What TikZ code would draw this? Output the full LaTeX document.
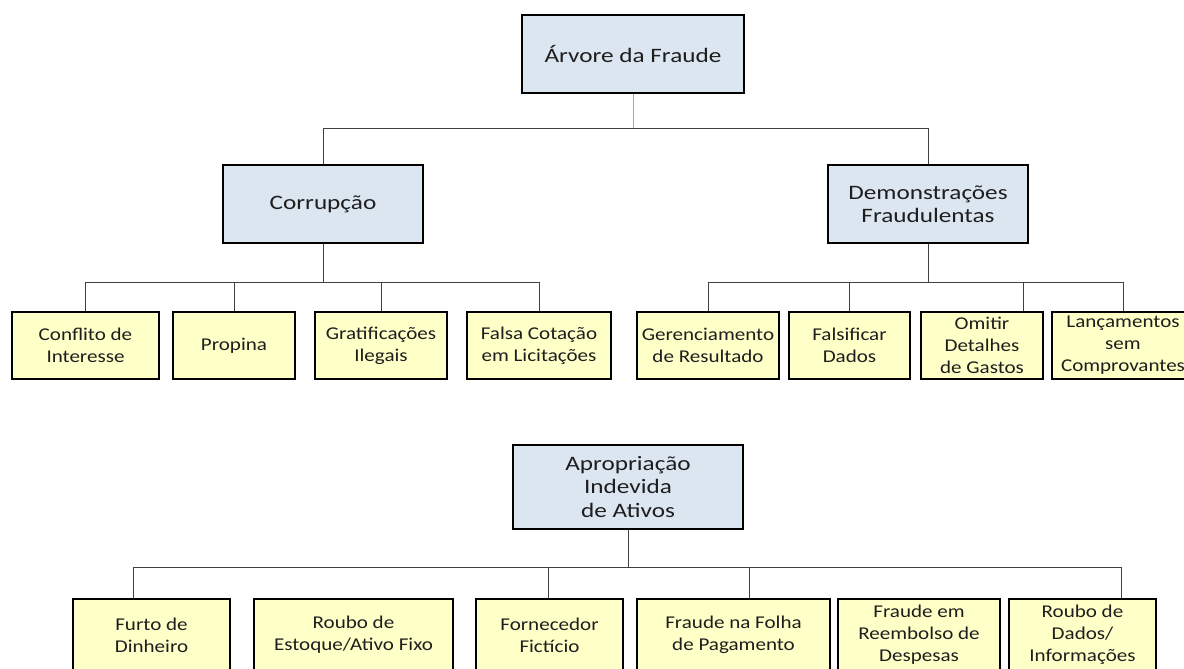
\documentclass[tikz,border=0pt]{standalone}
\usepackage{fontspec}
\setmainfont{Carlito}[FakeStretch=1.17]
\newfontfamily\catfont{Carlito}[FakeStretch=1.23]
\usetikzlibrary{shadows}
\definecolor{catfill}{HTML}{DCE6F1}
\definecolor{leaffill}{HTML}{FFFFC8}
\definecolor{lineg}{HTML}{404040}
\definecolor{lightline}{HTML}{A8A8A8}
\definecolor{txt}{HTML}{1E1E1E}
\begin{document}
\begin{tikzpicture}[x=1pt,y=-1pt,
  box/.style={draw=black, line width=1.3pt, align=center, text=txt, inner sep=0pt,
    drop shadow={shadow xshift=1.3pt, shadow yshift=-1.3pt, fill=black, opacity=1}},
  cat/.style={box, fill=catfill, font=\catfont\fontsize{20.5}{23.5}\selectfont},
  leaf/.style={box, fill=leaffill, font=\fontsize{18}{22}\selectfont},
  conn/.style={draw=lineg, line width=0.9pt}]
\useasboundingbox (0,0) rectangle (1184,669);
\fill[white] (0,0) rectangle (1184,669);
% categories
\node[cat, minimum width=222, minimum height=78] (top) at (633,54) {Árvore da Fraude};
\node[cat, minimum width=200, minimum height=78] (corr) at (323,204) {Corrupção};
\node[cat, minimum width=200, minimum height=78] (demo) at (928,204) {Demonstrações\\Fraudulentas};
\node[cat, minimum width=230, minimum height=84] (apro) at (628,487) {Apropriação\\Indevida\\de Ativos};
% row 1
\node[leaf, minimum width=147, minimum height=67] (conf) at (85.5,345.5) {Conflito de\\Interesse};
\node[leaf, minimum width=122, minimum height=67] (prop) at (234,345.5) {Propina};
\node[leaf, minimum width=132, minimum height=67] (grat) at (381,345.5) {Gratificações\\Ilegais};
\node[leaf, minimum width=144, minimum height=67] (fals) at (539,345.5) {Falsa Cotação\\em Licitações};
\node[leaf, minimum width=142, minimum height=67] (ger) at (708,345.5) {Gerenciamento\\de Resultado};
\node[leaf, minimum width=121, minimum height=67] (fsd) at (849.5,345.5) {Falsificar\\Dados};
\node[leaf, minimum width=122, minimum height=67] (omi) at (982,345.5) {Omitir\\Detalhes\\de Gastos};
\node[leaf, minimum width=142, minimum height=67] (lanc) at (1123,345.5) {Lançamentos\\sem\\Comprovantes};
% row 3
\node[leaf, minimum width=157, minimum height=72] (furto) at (151.5,635) {Furto de\\Dinheiro};
\node[leaf, minimum width=199, minimum height=72] (roubo) at (353.5,635) {Roubo de\\Estoque/Ativo Fixo};
\node[leaf, minimum width=147, minimum height=72] (forn) at (549.5,635) {Fornecedor\\Fictício};
\node[leaf, minimum width=193, minimum height=72] (folha) at (733.5,635) {Fraude na Folha\\de Pagamento};
\node[leaf, minimum width=162, minimum height=72] (reemb) at (919,635) {Fraude em\\Reembolso de\\Despesas};
\node[leaf, minimum width=147, minimum height=72] (dados) at (1082.5,635) {Roubo de\\Dados/\\Informações};
% connector levels
\coordinate (h1) at (0,128);
\coordinate (h2) at (0,282);
\coordinate (h3) at (0,567);
% top level
\draw[conn, draw=lightline] (top.south) -- (top.south |- h1);
\draw[conn] (corr.north) -- (corr.north |- h1) -- (demo.north |- h1) -- (demo.north);
% corrupcao
\draw[conn] (corr.south) -- (corr.south |- h2);
\draw[conn] (conf.north) -- (conf.north |- h2) -- (fals.north |- h2) -- (fals.north);
\draw[conn] (prop.north) -- (prop.north |- h2);
\draw[conn] (grat.north) -- (grat.north |- h2);
% demonstracoes
\draw[conn] (demo.south) -- (demo.south |- h2);
\draw[conn] (ger.north) -- (ger.north |- h2) -- (lanc.north |- h2) -- (lanc.north);
\draw[conn] (fsd.north) -- (fsd.north |- h2);
\draw[conn] ([xshift=41pt]omi.north) -- ([xshift=41pt]omi.north |- h2);
% apropriacao
\draw[conn] (apro.south) -- (apro.south |- h3);
\draw[conn] ([xshift=-18.5pt]furto.north) -- ([xshift=-18.5pt]furto.north |- h3) -- ([xshift=38.5pt]dados.north |- h3) -- ([xshift=38.5pt]dados.north);
\draw[conn] ([xshift=-1.5pt]forn.north) -- ([xshift=-1.5pt]forn.north |- h3);
\draw[conn] ([xshift=15.5pt]folha.north) -- ([xshift=15.5pt]folha.north |- h3);
\end{tikzpicture}
\end{document}
